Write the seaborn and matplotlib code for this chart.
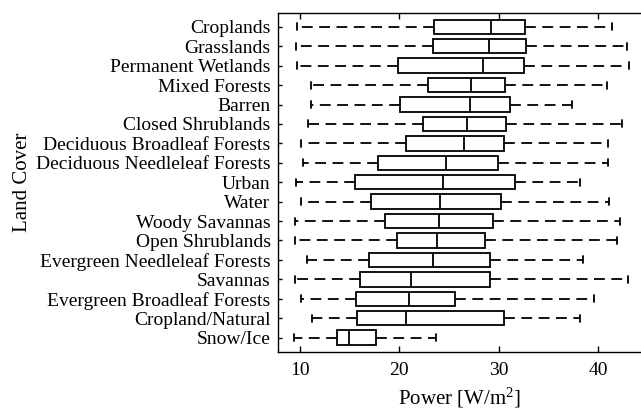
import numpy as np
import pandas as pd
import matplotlib
matplotlib.use("Agg")
import matplotlib.pyplot as plt
import seaborn as sns

categories = ["Croplands", "Grasslands", "Permanent Wetlands", "Mixed Forests", "Barren",
              "Closed Shrublands", "Deciduous Broadleaf Forests", "Deciduous Needleleaf Forests",
              "Urban", "Water", "Woody Savannas", "Open Shrublands", "Evergreen Needleleaf Forests",
              "Savannas", "Evergreen Broadleaf Forests", "Cropland/Natural", "Snow/Ice"]
whisker_low = [9.67, 9.57, 9.67, 11.14, 11.14, 10.77, 10.10, 10.27, 9.60, 10.07, 9.50, 9.53,
               10.67, 9.53, 10.07, 11.24, 9.43]
q1 = [23.48, 23.38, 19.90, 22.88, 20.10, 22.34, 20.66, 17.81, 15.50, 17.17, 18.52, 19.72,
      16.98, 16.00, 15.67, 15.77, 13.69]
median = [29.18, 29.01, 28.45, 27.20, 27.07, 26.83, 26.50, 24.69, 24.42, 24.12, 23.95, 23.75,
          23.41, 21.17, 20.97, 20.70, 14.90]
q3 = [32.67, 32.77, 32.54, 30.65, 31.16, 30.69, 30.55, 29.89, 31.63, 30.22, 29.38, 28.64,
      29.15, 29.15, 25.56, 30.49, 17.65]
whisker_high = [41.36, 42.86, 43.10, 40.92, 37.40, 42.39, 41.02, 41.02, 38.17, 41.05, 42.16,
                41.90, 38.47, 42.97, 39.60, 38.17, 23.65]
xticks = [10, 20, 30, 40]

rows = []
for i, c in enumerate(categories):
    for v in (whisker_low[i], q1[i], median[i], q3[i], whisker_high[i]):
        rows.append({"Land Cover": c, "Power": v})
df = pd.DataFrame(rows)

sns.set_style("ticks")
plt.rcParams["font.family"] = ["Liberation Serif", "DejaVu Serif"]
plt.rcParams["mathtext.fontset"] = "custom"
plt.rcParams["mathtext.rm"] = "Liberation Serif"
plt.rcParams["mathtext.it"] = "Liberation Serif:italic"
plt.rcParams["text.color"] = "black"
plt.rcParams["axes.labelcolor"] = "black"
plt.rcParams["xtick.color"] = "black"
plt.rcParams["ytick.color"] = "black"

fig = plt.figure(figsize=(6.41, 4.13), dpi=100)
ax = fig.add_axes([0.433, 0.1477, 0.567, 0.8208])

lw = 1.3
sns.boxplot(data=df, x="Power", y="Land Cover", order=categories, orient="h",
            whis=(0, 100), width=0.74, color="white", linecolor="black", saturation=1,
            linewidth=lw, ax=ax, capwidths=0.36,
            whiskerprops=dict(linestyle=(0, (6.0, 3.6)), linewidth=lw, color="black"),
            medianprops=dict(color="black", linewidth=lw),
            capprops=dict(color="black", linewidth=lw),
            boxprops=dict(edgecolor="black", linewidth=lw, facecolor="white"))

ax.set_xlim(7.74, 44.3)
ax.set_ylim(16.74, -0.71)
ax.set_xticks(xticks)
ax.set_xticklabels([str(t) for t in xticks])
ax.tick_params(axis="x", direction="in", top=True, bottom=True, length=4, width=1,
               labelsize=14, pad=7, colors="black")
ax.tick_params(axis="y", direction="in", left=True, length=3, width=1,
               labelsize=14, pad=5, colors="black")
for s in ["left", "top", "bottom"]:
    ax.spines[s].set_visible(True)
    ax.spines[s].set_color("black")
    ax.spines[s].set_linewidth(1.0)
ax.spines["right"].set_visible(False)

ax.set_xlabel("Power [W/m$^2$]", fontsize=15, labelpad=5)
ax.set_ylabel("Land Cover", fontsize=15, labelpad=3)

fig.savefig("out.png", dpi=100)
